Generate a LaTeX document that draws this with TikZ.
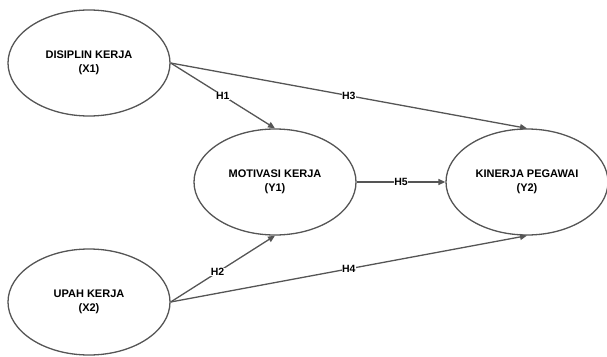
\documentclass[tikz,border=0pt]{standalone}
\usepackage{fontspec}
\setmainfont{Liberation Sans}
\usetikzlibrary{shapes.geometric,arrows.meta}
\definecolor{linegray}{HTML}{555555}
\begin{document}
\begin{tikzpicture}
[x=1pt,y=-1pt,
  nodedecorate/.style={shape=ellipse,draw=linegray,line width=1.3pt,fill=white,
    minimum width=162pt,minimum height=106pt,inner sep=0pt,align=center,
    font=\fontsize{11}{14.5}\selectfont\bfseries},%
  arrowdecorate/.style={-{Triangle[length=7pt,width=6pt]},draw=linegray,line width=1.3pt},
  labeldecorate/.style={fill=white,inner sep=0.5pt,font=\fontsize{10.5}{12}\selectfont\bfseries}]
\useasboundingbox (0,0) rectangle (607,356);
%% nodes or vertices
\foreach \nodename/\x/\y/\nodetext in {x1/89/63/{DISIPLIN KERJA\\(X1)},
  x2/89/302/{UPAH KERJA\\(X2)}, y1/275/182/{MOTIVASI KERJA\\(Y1)},
  y2/527/182/{KINERJA PEGAWAI\\(Y2)}} {
  \node (\nodename) at (\x,\y) [nodedecorate] {\nodetext};
}
%% edges or lines
\path
(x1.east) edge[arrowdecorate] node[labeldecorate] {H1} (y1.north)
(x1.east) edge[arrowdecorate] node[labeldecorate] {H3} (y2.north)
(y1.east) edge[arrowdecorate] node[labeldecorate] {H5} (y2.west)
(x2.east) edge[arrowdecorate] node[labeldecorate,pos=0.45] {H2} (y1.south)
(x2.east) edge[arrowdecorate] node[labeldecorate] {H4} (y2.south);
\end{tikzpicture}
\end{document}
